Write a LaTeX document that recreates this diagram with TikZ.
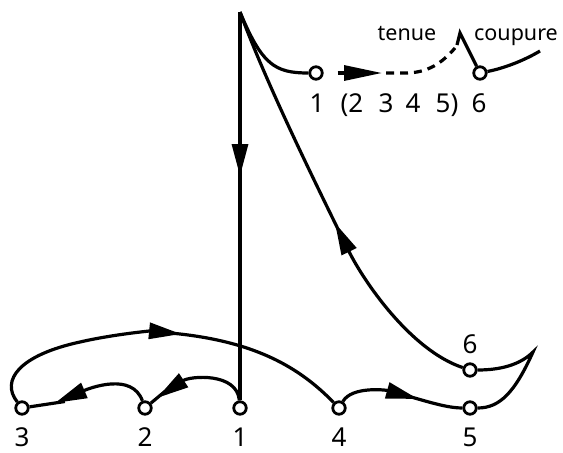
\documentclass[tikz,border=0pt]{standalone}
\usepackage{fontspec}
\setmainfont{Noto Sans}
\usetikzlibrary{arrows.meta}
\begin{document}
\begin{tikzpicture}[x=1pt,y=-1pt,
  line width=3.2pt,
  pt/.style={circle,draw,fill=white,line width=2.8pt,inner sep=0pt,minimum size=12.5pt},
  lab/.style={font=\fontsize{26}{31}\selectfont,anchor=base,inner sep=0pt},
  wd/.style={font=\fontsize{21.5}{26}\selectfont,anchor=base,inner sep=0pt},
  arr/.style={-{Triangle[length=32pt,width=16pt]}},
  longarr/.style={-{Triangle[length=38pt,width=15pt]}},
  cont/.style={shorten <=-10pt},
  dsh/.style={dash pattern=on 8pt off 6pt}
]
\useasboundingbox (0,0) rectangle (563,453);
% points
\node[pt] (n3) at (22,408) {};
\node[pt] (n2) at (145,408) {};
\node[pt] (n1) at (240,408) {};
\node[pt] (n4) at (339,408) {};
\node[pt] (n5) at (470,408) {};
\node[pt] (n6) at (470,370) {};
\node[pt] (t1) at (316,73) {};
\node[pt] (t6) at (480,73) {};
\coordinate (apex) at (240,12);
\coordinate (cusp) at (533,352);
\coordinate (sw) at (460,33);
\coordinate (swl) at (457,45);
\coordinate (tr) at (540,51);
% arrow tip points
\coordinate (av) at (240,176);
\coordinate (al) at (335,223);
\coordinate (ad) at (382,73);
\coordinate (ab) at (181,334);
\coordinate (a12) at (157,398);
\coordinate (a23) at (55,403);
\coordinate (a45) at (418,399);
% labels
\node[lab] (l3) at (22,446) {3};
\node[lab] (l2) at (145,446) {2};
\node[lab] (l1) at (240,446) {1};
\node[lab] (l4) at (339,446) {4};
\node[lab] (l5) at (470,446) {5};
\node[lab] (l6) at (470,353) {6};
\node[lab] (m1) at (317,112) {1};
\node[lab] (m2) at (352,112) {(2};
\node[lab] (m3) at (386,112) {3};
\node[lab] (m4) at (413,112) {4};
\node[lab] (m5) at (447,112) {5)};
\node[lab] (m6) at (479,112) {6};
\node[wd] (tenue) at (407,40) {tenue};
\node[wd] (coupure) at (516,40) {coupure};
% connectors
\draw[arr] (apex) -- (av);
\draw[cont] (av) -- (n1);
\draw (apex) .. controls (262,65) and (275,73) .. (t1);
\draw[arr] (n6) .. controls (410,350) and (363,280) .. (al);
\draw[cont] (al) .. controls (310,172) and (265,80) .. (apex);
\draw[dsh,longarr,shorten <=14pt] (t1) -- (ad);
\draw[dsh,shorten <=4pt] (ad) -- (405,73) .. controls (428,73) and (442,63) .. (455,48);
\draw (swl) -- (sw) -- (t6);
\draw (t6) .. controls (505,68) and (525,60) .. (tr);
\draw (n6) .. controls (500,370) and (520,365) .. (cusp) .. controls (515,392) and (500,408) .. (n5);
\draw[arr] (n3) .. controls (0,380) and (20,355) .. (80,342) .. controls (115,334) and (151,331) .. (ab);
\draw[cont] (ab) .. controls (256,341) and (300,368) .. (n4);
\draw[arr] (n1) .. controls (237,372) and (190,376) .. (a12);
\draw[cont] (a12) -- (n2);
\draw[arr] (n2) .. controls (132,372) and (90,388) .. (a23);
\draw[cont] (a23) -- (n3);
\draw[arr] (n4) .. controls (352,386) and (386,390) .. (a45);
\draw[cont] (a45) .. controls (435,404) and (450,408) .. (n5);
\end{tikzpicture}
\end{document}
